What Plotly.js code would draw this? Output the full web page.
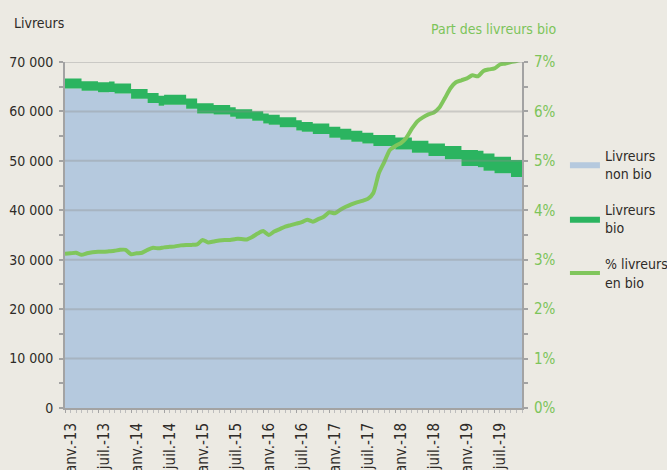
<!DOCTYPE html>
<html>
<head>
<meta charset="utf-8">
<script src="https://cdn.plot.ly/plotly-3.0.1.min.js"></script>
<style>
  html, body { margin: 0; padding: 0; background: #ECEAE3; }
  #chart { width: 667px; height: 470px; }
</style>
</head>
<body>
<div id="chart"></div>
<script>
// ---- Data ----
const monthNames = ['janv.', 'févr.', 'mars', 'avr.', 'mai', 'juin', 'juil.', 'août', 'sept.', 'oct.', 'nov.', 'déc.'];
const years = ['13', '14', '15', '16', '17', '18', '19'];
const months = [];
years.forEach(y => monthNames.forEach(m => months.push(m + '-' + y)));

const tickLabels = ['janv.-13', 'juil.-13', 'janv.-14', 'juil.-14', 'janv.-15', 'juil.-15', 'janv.-16',
                    'juil.-16', 'janv.-17', 'juil.-17', 'janv.-18', 'juil.-18', 'janv.-19', 'juil.-19'];

const livreursNonBio = [
  64640, 64640, 64640, 64160, 64160, 64160, 63890, 63890, 63950, 63630, 63630, 63630,
  62540, 62540, 62540, 61730, 61730, 61130, 61330, 61330, 61330, 61330, 60520, 60520,
  59590, 59590, 59590, 59390, 59390, 59390, 58900, 58500, 58500, 58500, 58100, 58100,
  57570, 57290, 57290, 56820, 56820, 56820, 56160, 55870, 55870, 55410, 55410, 55410,
  54660, 54660, 54260, 54260, 53850, 53850, 53530, 53530, 52990, 52990, 52990, 52990,
  52320, 52320, 52320, 51630, 51630, 51630, 50960, 50960, 50960, 50300, 50300, 50300,
  48940, 48940, 48940, 48700, 48000, 48000, 47470, 47470, 47470, 46720, 46720, 46720
];

const livreursBio = [
  2020, 2020, 2020, 1960, 1960, 1960, 2020, 2020, 2100, 2020, 2020, 2020,
  2020, 2020, 2020, 2020, 2020, 2020, 2020, 2020, 2020, 2020, 2100, 2100,
  2080, 2080, 2080, 1900, 1900, 1900, 1950, 1950, 1950, 1950, 1950, 1950,
  2020, 2020, 2020, 1990, 1990, 1990, 2050, 2000, 2000, 2160, 2160, 2160,
  2220, 2220, 2220, 2220, 2230, 2230, 2180, 2180, 2220, 2220, 2220, 2220,
  2420, 2420, 2420, 2430, 2430, 2430, 2570, 2570, 2570, 2690, 2690, 2690,
  3240, 3240, 3240, 3350, 3510, 3510, 3350, 3350, 3350, 3440, 3440, 3440
];

const partBio = [
  3.12, 3.13, 3.14, 3.10, 3.13, 3.15, 3.16, 3.16, 3.17, 3.18, 3.20, 3.20,
  3.11, 3.13, 3.14, 3.20, 3.24, 3.23, 3.25, 3.26, 3.27, 3.29, 3.30, 3.30,
  3.31, 3.40, 3.35, 3.37, 3.39, 3.40, 3.40, 3.42, 3.42, 3.41, 3.46, 3.53,
  3.58, 3.50, 3.57, 3.62, 3.67, 3.70, 3.73, 3.76, 3.81, 3.77, 3.82, 3.87,
  3.96, 3.94, 4.01, 4.07, 4.12, 4.16, 4.19, 4.23, 4.35, 4.75, 4.98, 5.22,
  5.30, 5.36, 5.47, 5.65, 5.80, 5.88, 5.94, 5.98, 6.08, 6.27, 6.47, 6.59,
  6.63, 6.67, 6.73, 6.71, 6.82, 6.85, 6.87, 6.95, 6.97, 7.00, 7.02, 7.05
];

// ---- Chart ----
const idx = months.map((m, i) => i);
const tickVals = tickLabels.map(l => months.indexOf(l));

const FONT = 'DejaVu Sans Condensed, DejaVu Sans, sans-serif';
const TXT = '#2E2B28';
const BG = '#ECEAE3';
const AXIS = '#A3A3A3';
const GREEN_LINE = '#80C65C';
const GREEN_TXT = '#7CC45A';

const traces = [
  {
    x: idx, y: livreursNonBio, customdata: months,
    name: 'Livreurs<br>non bio', legendgroup: 'a',
    type: 'scatter', mode: 'lines', stackgroup: 'one',
    line: { width: 0, shape: 'hv', color: '#B5C9DE' }, fillcolor: '#B5C9DE'
  },
  {
    x: idx, y: livreursBio, customdata: months,
    name: 'Livreurs<br>bio', legendgroup: 'b',
    type: 'scatter', mode: 'lines', stackgroup: 'one',
    line: { width: 0, shape: 'hv', color: '#2BB460' }, fillcolor: '#2BB460'
  },
  {
    x: idx, y: partBio, customdata: months,
    name: '% livreurs<br>en bio', legendgroup: 'c',
    type: 'scatter', mode: 'lines', yaxis: 'y2',
    line: { width: 4, color: GREEN_LINE, shape: 'spline', smoothing: 0.6 }
  }
];

const gridVals = [10000, 20000, 30000, 40000, 50000, 60000, 70000];
const shapes = gridVals.map(v => ({
  type: 'line', xref: 'paper', x0: 0, x1: 1, yref: 'y', y0: v, y1: v,
  line: { color: 'rgba(140,140,140,0.35)', width: 2 }, layer: 'above'
}));

const layout = {
  width: 667, height: 470,
  paper_bgcolor: BG, plot_bgcolor: BG,
  margin: { l: 65, r: 145, t: 62, b: 62 },
  separators: ', ',
  font: { family: FONT, color: TXT, size: 14 },
  showlegend: true,
  legend: {
    xref: 'container', yref: 'container',
    x: 0.847, xanchor: 'left', y: 0.703, yanchor: 'top',
    bgcolor: 'rgba(0,0,0,0)', font: { family: FONT, size: 14, color: TXT },
    traceorder: 'grouped', tracegroupgap: 15, itemwidth: 30, valign: 'middle'
  },
  xaxis: {
    type: 'linear', range: [0, 83],
    tickvals: tickVals, ticktext: tickLabels, tickangle: -90,
    tickfont: { family: FONT, size: 15, color: TXT },
    showgrid: false, zeroline: false,
    showline: true, linecolor: AXIS, linewidth: 2,
    ticks: 'outside', ticklen: 3, tickcolor: AXIS, tickwidth: 1,
    minor: { dtick: 1, ticks: 'outside', ticklen: 3, tickcolor: '#BDBDBD', showgrid: false },
    ticklabelshift: 6, ticklabelstandoff: 4,
    fixedrange: true
  },
  yaxis: {
    range: [0, 70000], dtick: 10000, tickformat: ',d',
    tickfont: { family: FONT, size: 14, color: TXT },
    showgrid: false, zeroline: false,
    showline: true, linecolor: AXIS, linewidth: 2,
    ticks: 'outside', ticklen: 4, tickcolor: AXIS, tickwidth: 2,
    minor: { dtick: 5000, ticks: 'outside', ticklen: 4, tickcolor: AXIS, tickwidth: 2, showgrid: false },
    ticklabelstandoff: 3,
    fixedrange: true
  },
  yaxis2: {
    overlaying: 'y', side: 'right',
    range: [0, 7], dtick: 1, ticksuffix: '%',
    tickfont: { family: FONT, size: 15, color: GREEN_TXT },
    showgrid: false, zeroline: false,
    showline: true, linecolor: AXIS, linewidth: 2,
    ticks: 'outside', ticklen: 4, tickcolor: AXIS, tickwidth: 2,
    minor: { dtick: 0.5, ticks: 'outside', ticklen: 4, tickcolor: AXIS, tickwidth: 2, showgrid: false },
    ticklabelstandoff: 3,
    fixedrange: true
  },
  shapes: shapes,
  annotations: [
    {
      text: 'Livreurs', xref: 'paper', yref: 'paper',
      x: -0.116, xanchor: 'left', y: 1.113, yanchor: 'middle',
      showarrow: false, font: { family: FONT, size: 14, color: TXT }
    },
    {
      text: 'Part des livreurs bio', xref: 'paper', yref: 'paper',
      x: 0.9377, xanchor: 'center', y: 1.094, yanchor: 'middle',
      showarrow: false, font: { family: FONT, size: 14, color: GREEN_TXT }
    }
  ]
};

Plotly.newPlot('chart', traces, layout, { displayModeBar: false, staticPlot: true });
</script>
</body>
</html>
